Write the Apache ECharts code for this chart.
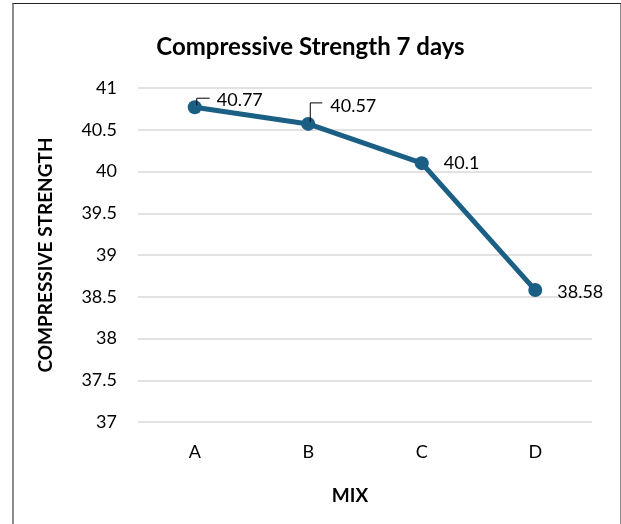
<!DOCTYPE html>
<html>
<head>
<meta charset="utf-8">
<script src="https://cdn.jsdelivr.net/npm/echarts@6/dist/echarts.min.js"></script>
<style>
  html, body { margin: 0; padding: 0; background: #fff; }
  #frame {
    position: absolute; left: 12px; top: 3px; width: 606px; height: 540px;
    border-left: 2px solid #8c8c8c; border-right: 2px solid #8c8c8c; border-top: 1px solid #222;
  }
  #chart { position: absolute; left: 0; top: 0; width: 621px; height: 524px; }
</style>
</head>
<body>
<div id="frame"></div>
<div id="chart"></div>
<script>
// Mix designs and their 7-day compressive strength
const mixes = ['A', 'B', 'C', 'D'];
const strength7d = [40.77, 40.57, 40.1, 38.58];
const yTicks = { min: 37, max: 41, step: 0.5 };

const FONT = 'Lato, "Open Sans", sans-serif';
const lineColor = '#1b5f85';

// Vertical nudge of each value label (the first two are lifted and get a leader)
const labelNudge = [-7, -18, 0, 2];
// Leader hooks for the lifted labels: rise from the point, then run right
const leaders = { 0: { rise: 9, run: 13 }, 1: { rise: 21, run: 12 } };

const chart = echarts.init(document.getElementById('chart'));
chart.setOption({
  animation: false,
  backgroundColor: 'transparent',
  title: {
    text: 'Compressive Strength 7 days',
    left: 'center',
    top: 30,
    textStyle: { fontFamily: FONT, fontWeight: 'bold', fontSize: 24, color: '#000' }
  },
  grid: { left: 138, right: 29, top: 88, bottom: 102 },
  xAxis: {
    type: 'category',
    data: mixes,
    boundaryGap: true,
    name: 'MIX',
    nameLocation: 'middle',
    nameGap: 64,
    nameTextStyle: { fontFamily: FONT, fontWeight: 'bold', fontSize: 19, color: '#000', padding: [0, 30, 0, 0] },
    axisLine: { show: false },
    axisTick: { show: false },
    axisLabel: { fontFamily: FONT, fontSize: 18, color: '#000', margin: 21 }
  },
  yAxis: {
    type: 'value',
    min: yTicks.min,
    max: yTicks.max,
    interval: yTicks.step,
    name: 'COMPRESSIVE STRENGTH',
    nameLocation: 'middle',
    nameGap: 83,
    nameRotate: 90,
    nameTextStyle: { fontFamily: FONT, fontWeight: 'bold', fontSize: 19, color: '#000' },
    axisLine: { show: false },
    axisTick: { show: false },
    axisLabel: { fontFamily: FONT, fontSize: 18, color: '#000', margin: 21 },
    splitLine: { lineStyle: { color: '#d9d9d9', width: 1.5 } }
  },
  series: [{
    type: 'line',
    data: strength7d.map(function (v, i) {
      return { value: v, label: { offset: [0, labelNudge[i]] } };
    }),
    symbol: 'circle',
    symbolSize: 14,
    itemStyle: { color: lineColor },
    lineStyle: { color: lineColor, width: 5 },
    label: {
      show: true,
      position: 'right',
      distance: 15,
      fontFamily: FONT,
      fontSize: 18,
      color: '#000'
    }
  }]
});

// Leader lines anchored to the plotted points
const leaderGraphics = Object.keys(leaders).map(function (k) {
  const i = Number(k);
  const p = chart.convertToPixel({ seriesIndex: 0 }, [i, strength7d[i]]);
  const L = leaders[k];
  return {
    type: 'polyline',
    z: 10,
    silent: true,
    shape: { points: [[p[0] + 2, p[1] - 2], [p[0] + 2, p[1] - L.rise], [p[0] + 2 + L.run, p[1] - L.rise]] },
    style: { stroke: '#000', lineWidth: 1, fill: null }
  };
});
chart.setOption({ graphic: leaderGraphics });
</script>
</body>
</html>
